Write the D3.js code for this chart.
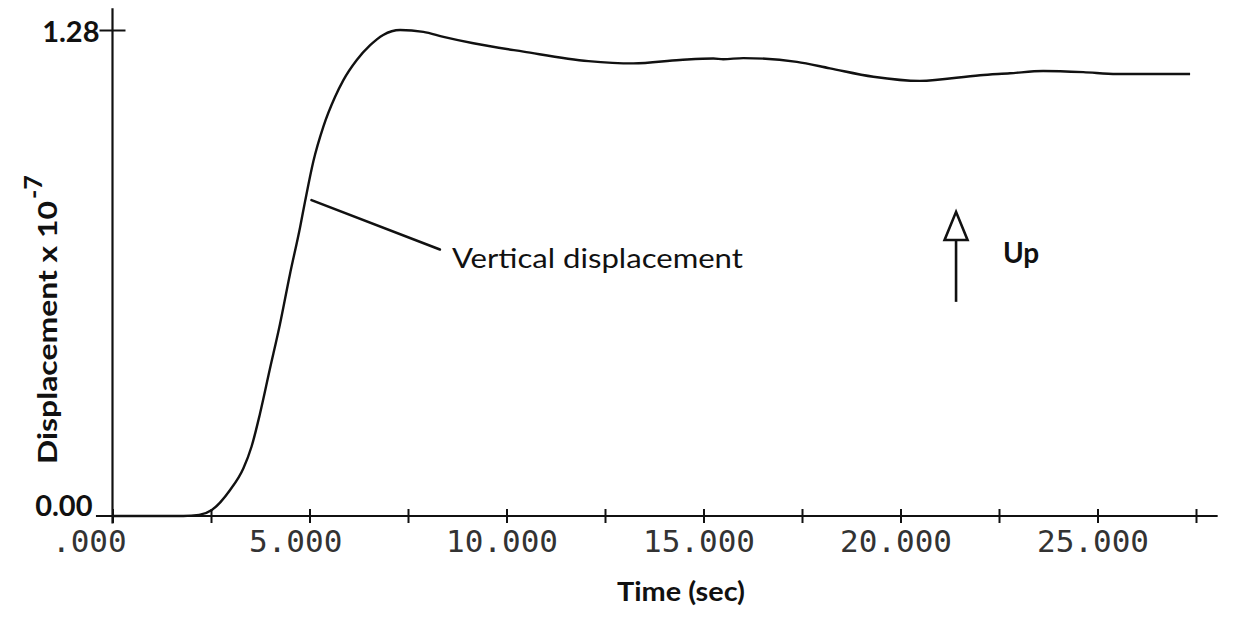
<!DOCTYPE html>
<html>
<head>
<meta charset="utf-8">
<script src="https://cdn.jsdelivr.net/npm/d3@7"></script>
<style>
  html, body { margin: 0; padding: 0; background: #fff; }
  svg { display: block; }
</style>
</head>
<body>
<svg id="chart" width="1235" height="623"></svg>
<script>
// ---- data ----
const timeSec = [0, 1.0, 1.8, 2.2, 2.52, 2.98, 3.32, 3.53, 3.74, 3.99, 4.25, 4.50, 4.76, 4.89, 5.10, 5.35, 5.65, 5.86, 6.20, 6.54, 6.87, 7.30, 7.89, 8.40, 9.16, 10.43, 12.08, 13.22, 14.40, 15.25, 15.50, 16.01, 17.37, 18.21, 19.31, 20.49, 22.02, 22.78, 23.62, 24.64, 25.49, 27.35];
const displacement = [0, 0, 0, 0.003, 0.016, 0.068, 0.125, 0.183, 0.268, 0.385, 0.505, 0.635, 0.760, 0.830, 0.935, 1.025, 1.104, 1.148, 1.201, 1.240, 1.267, 1.280, 1.275, 1.262, 1.245, 1.223, 1.198, 1.192, 1.201, 1.205, 1.203, 1.206, 1.196, 1.179, 1.157, 1.146, 1.161, 1.166, 1.172, 1.169, 1.164, 1.164];
const xTicks = [0, 2.5, 5, 7.5, 10, 12.5, 15, 17.5, 20, 22.5, 25, 27.5];
const xTickLabels = [".000", "", "5.000", "", "10.000", "", "15.000", "", "20.000", "", "25.000", ""];
const yTicks = [0, 1.28];
const yTickLabels = ["0.00", "1.28"];
const xTitle = "Time (sec)";
const yTitle = "Displacement x 10";
const yTitleExp = "-7";
const seriesLabel = "Vertical displacement";
const seriesLabelAnchor = [5.0, 0.832];   // point on curve (t, v)
const seriesLabelEnd = [8.31, 0.702];
const upLabel = "Up";
const upArrow = {t: 21.41, vTop: 0.801, vBase: 0.727, vBottom: 0.564};

// ---- scales ----
const svg = d3.select("#chart");
const x = d3.scaleLinear().domain([0, 28]).range([112.5, 1215.7]);
const y = d3.scaleLinear().domain([0, 1.28]).range([516, 30]);
const ink = "#111";

// ---- x axis ----
const xAxis = d3.axisBottom(x)
  .tickValues(xTicks)
  .tickSize(7)
  .tickFormat((d, i) => xTickLabels[i]);
const gx = svg.append("g").attr("transform", `translate(0,${y(0)})`).call(xAxis);
gx.select(".domain").remove();
gx.selectAll(".tick line").attr("y1", -7).attr("y2", 7).attr("stroke", ink).attr("stroke-width", 2);
gx.selectAll(".tick text")
  .attr("text-anchor", "start")
  .attr("x", -61)
  .attr("y", 36)
  .attr("dy", 0)
  .attr("fill", "#333")
  .style("font-family", "'DejaVu Sans Mono', monospace")
  .style("font-size", "31px");
svg.append("line")
  .attr("x1", x(-0.42)).attr("x2", x(28.05))
  .attr("y1", y(0)).attr("y2", y(0))
  .attr("stroke", ink).attr("stroke-width", 2.2);

// ---- y axis ----
svg.append("line")
  .attr("x1", x(0)).attr("x2", x(0))
  .attr("y1", y(1.337)).attr("y2", y(-0.02))
  .attr("stroke", ink).attr("stroke-width", 2.2);
const yAxis = d3.axisLeft(y).tickValues(yTicks).tickSize(0).tickFormat((d, i) => yTickLabels[i]);
const gy = svg.append("g").attr("transform", `translate(${x(0)},0)`).call(yAxis);
gy.select(".domain").remove();
gy.selectAll(".tick line")
  .attr("x1", d => d === 0 ? 0 : -13)
  .attr("x2", d => d === 0 ? 0 : 13)
  .attr("stroke", ink).attr("stroke-width", 2);
gy.selectAll(".tick text")
  .attr("x", d => d === 0 ? -20 : -13)
  .attr("dy", d => d === 0 ? "-0.02em" : "0.38em")
  .attr("fill", ink)
  .style("font-family", "'Lato', 'DejaVu Sans', sans-serif")
  .style("font-size", "29px")
  .style("font-weight", "700");

// ---- curve ----
const pts = timeSec.map((t, i) => [t, displacement[i]]);
svg.append("path")
  .datum(pts)
  .attr("fill", "none")
  .attr("stroke", ink)
  .attr("stroke-width", 2.4)
  .attr("stroke-linejoin", "round")
  .attr("d", d3.line().x(d => x(d[0])).y(d => y(d[1])).curve(d3.curveMonotoneX));

// ---- annotation: series label ----
svg.append("line")
  .attr("x1", x(seriesLabelAnchor[0]) + 2).attr("y1", y(seriesLabelAnchor[1]))
  .attr("x2", x(seriesLabelEnd[0])).attr("y2", y(seriesLabelEnd[1]))
  .attr("stroke", ink).attr("stroke-width", 2.6).attr("stroke-linecap", "round");
svg.append("text")
  .attr("x", x(seriesLabelEnd[0]) + 12)
  .attr("y", y(seriesLabelEnd[1]) + 19)
  .attr("fill", ink)
  .attr("textLength", 291)
  .attr("lengthAdjust", "spacingAndGlyphs")
  .style("font-family", "'Lato', 'DejaVu Sans', sans-serif")
  .style("font-size", "26px")
  .text(seriesLabel);

// ---- up arrow ----
const ax = x(upArrow.t);
svg.append("line")
  .attr("x1", ax).attr("x2", ax)
  .attr("y1", y(upArrow.vBase)).attr("y2", y(upArrow.vBottom))
  .attr("stroke", ink).attr("stroke-width", 2.6);
svg.append("path")
  .attr("d", `M${ax},${y(upArrow.vTop)} L${ax - 11.5},${y(upArrow.vBase)} L${ax + 11.5},${y(upArrow.vBase)} Z`)
  .attr("fill", "#fff").attr("stroke", ink).attr("stroke-width", 2.6).attr("stroke-linejoin", "miter");
svg.append("text")
  .attr("x", ax + 47)
  .attr("y", y(upArrow.vBase) + 23)
  .attr("fill", ink)
  .style("font-family", "'Lato', 'DejaVu Sans', sans-serif")
  .style("font-size", "28px")
  .style("font-weight", "700")
  .text(upLabel);

// ---- axis titles ----
svg.append("text")
  .attr("x", 681).attr("y", 601)
  .attr("text-anchor", "middle")
  .attr("fill", ink)
  .attr("textLength", 128)
  .attr("lengthAdjust", "spacingAndGlyphs")
  .style("font-family", "'Lato', 'DejaVu Sans', sans-serif")
  .style("font-size", "26px")
  .style("font-weight", "700")
  .text(xTitle);

const yt = svg.append("text")
  .attr("transform", "translate(57,464) rotate(-90)")
  .attr("fill", ink)
  .style("font-family", "'Lato', 'DejaVu Sans', sans-serif")
  .style("font-size", "26px")
  .style("font-weight", "700");
yt.append("tspan").attr("textLength", 263).attr("lengthAdjust", "spacingAndGlyphs").text(yTitle);
yt.append("tspan").attr("dy", -15).attr("dx", 2).style("font-size", "25px").text(yTitleExp);
</script>
</body>
</html>
